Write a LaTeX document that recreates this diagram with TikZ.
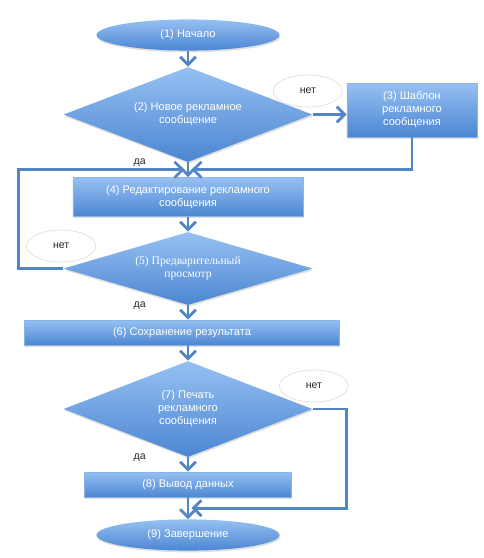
\documentclass[tikz,border=0pt]{standalone}
\usepackage{fontspec}
\setmainfont{Liberation Sans}
\newfontfamily\serifcyr{Liberation Serif}
\usepackage{xcolor}
\usepackage{tikz}
\usetikzlibrary{shapes.geometric, arrows.meta, positioning, calc, shadows}

\definecolor{shapetop}{RGB}{150,192,242}
\definecolor{shapebot}{RGB}{76,134,210}
\definecolor{shapeedge}{RGB}{140,180,230}
\definecolor{linecol}{RGB}{82,133,198}

\begin{document}
\begin{tikzpicture}[node distance=2cm, auto]
    % Define the style for the nodes
    \tikzstyle{shaded} = [top color=shapetop, bottom color=shapebot, text=white, align=center, font=\fontsize{6.3}{7.4}\selectfont, drop shadow={opacity=0.25, shadow xshift=0.4pt, shadow yshift=-1pt}]
    \tikzstyle{terminal} = [ellipse, shaded, minimum width=3.66cm, minimum height=0.6cm]
    \tikzstyle{decision} = [diamond, shaded, inner sep=0pt, aspect=3, minimum width=4.98cm]
    \tikzstyle{block} = [rectangle, shaded, draw=shapeedge, line width=0.4pt]
    \tikzstyle{answer} = [ellipse, draw=black!12, fill=white, minimum width=1.38cm, minimum height=0.64cm, font=\fontsize{6}{7}\selectfont, text=black!85]
    \tikzstyle{yes} = [font=\fontsize{6}{7}\selectfont, text=black!85, inner sep=0pt]
    \tikzstyle{line} = [draw=linecol, line width=1.6pt, -{Straight Barb[length=4.5pt,width=9pt]}]

    \useasboundingbox (-3.76,0.70) rectangle (5.90,-10.46);

    % Place the nodes
    \node [terminal] (start) {(1) Начало};
    \node [decision, below of=start, node distance=1.59cm, minimum height=1.9cm] (newmsg) {(2) Новое рекламное\\сообщение};
    \node [block, right of=newmsg, node distance=4.48cm, yshift=0.09cm, minimum width=2.6cm, minimum height=1.08cm] (template) {(3) Шаблон\\рекламного\\сообщения};
    \node [block, below of=newmsg, node distance=1.65cm, minimum width=4.6cm, minimum height=0.78cm] (edit) {(4) Редактирование рекламного\\сообщения};
    \node [decision, below of=edit, node distance=1.43cm, minimum height=1.46cm, font=\serifcyr\fontsize{6.6}{7.6}\selectfont] (preview) {(5) Предварительный\\просмотр};
    \node [block, below of=preview, node distance=1.28cm, xshift=-0.12cm, minimum width=6.3cm, minimum height=0.5cm] (save) {(6) Сохранение результата};
    \node [decision, below of=preview, node distance=2.81cm, minimum height=1.92cm] (print) {(7) Печать\\рекламного\\сообщения};
    \node [block, below of=print, node distance=1.51cm, minimum width=4.14cm, minimum height=0.5cm] (output) {(8) Вывод данных};
    \node [terminal, below of=output, node distance=1.01cm] (finish) {(9) Завершение};

    % Answers
    \node [answer] (no1) at ($(newmsg.east)+(-0.1,0.47)$) {нет};
    \node [answer] (no2) at ($(preview.west)+(-0.04,0.45)$) {нет};
    \node [answer] (no3) at ($(print.east)+(0.02,0.46)$) {нет};
    \node [yes, left=0.84cm of newmsg.south] (yes1) {да};
    \node [yes, left=0.84cm of preview.south] (yes2) {да};
    \node [yes, left=0.84cm of print.south] (yes3) {да};

    % Junctions
    \coordinate (join1) at ($(newmsg.south)!0.5!(edit.north)$);
    \coordinate (join2) at ($(output.south)!0.5!(finish.north)$);

    % Connect the nodes with paths
    \path [line] (start) -- (newmsg);
    \path [line] (newmsg.east) -- (newmsg.east -| template.west);
    \path [line] (newmsg) -- (edit);
    \path [line, shorten >=2pt] (template.south) |- (join1);
    \path [line] (edit) -- (preview);
    \path [line, shorten >=2pt] (preview.west) -- ++(-0.9,0) |- (join1);
    \path [line] (preview.south) -- (preview.south |- save.north);
    \path [line] (save.south -| print.north) -- (print.north);
    \path [line] (print) -- (output);
    \path [line, shorten >=2pt] (print.east) -- ++(0.68,0) |- (join2);
    \path [line] (output) -- (finish);
\end{tikzpicture}
\end{document}
